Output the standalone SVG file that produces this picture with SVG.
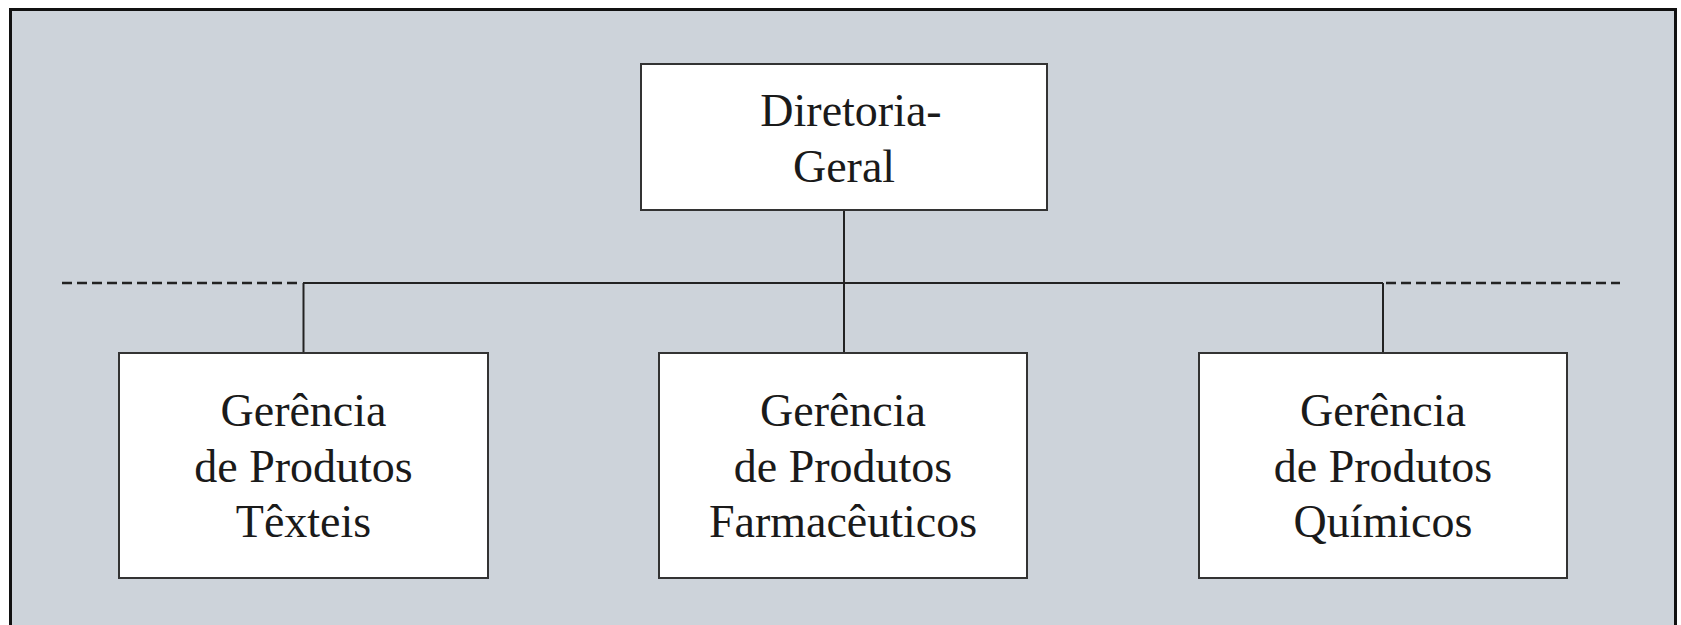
<svg xmlns="http://www.w3.org/2000/svg" width="1681" height="625" viewBox="0 0 1681 625">
  <style>
    .box { fill: #ffffff; stroke: #333333; stroke-width: 2; }
    .lbl { font-family: "Liberation Serif", "DejaVu Serif", serif; font-size: 46px; fill: #1a1a1a; text-anchor: middle; }
    .conn { stroke: #222222; stroke-width: 2; fill: none; }
    .dash { stroke: #222222; stroke-width: 2.5; stroke-dasharray: 10 5; fill: none; }
  </style>
  <rect x="0" y="0" width="1681" height="625" fill="#ffffff"/>
  <rect x="10.5" y="9.5" width="1665" height="620" fill="#cdd3da" stroke="#111111" stroke-width="3"/>

  <g id="connectors">
    <line class="dash" x1="62" y1="283" x2="298" y2="283"/>
    <line class="dash" x1="1386" y1="283" x2="1620" y2="283"/>
    <line class="conn" x1="303" y1="283" x2="1383" y2="283"/>
    <line class="conn" x1="844" y1="210" x2="844" y2="353"/>
    <line class="conn" x1="303.5" y1="283" x2="303.5" y2="353"/>
    <line class="conn" x1="1383" y1="283" x2="1383" y2="353"/>
  </g>

  <g id="diretoria-geral">
    <rect class="box" x="641" y="64" width="406" height="146"/>
    <text class="lbl" x="851" y="126">Diretoria-</text>
    <text class="lbl" x="844" y="181.5">Geral</text>
  </g>

  <g id="gerencia-texteis">
    <rect class="box" x="119" y="353" width="369" height="225"/>
    <text class="lbl" x="303.5" y="426">Gerência</text>
    <text class="lbl" x="303.5" y="481.5">de Produtos</text>
    <text class="lbl" x="303.5" y="537">Têxteis</text>
  </g>

  <g id="gerencia-farmaceuticos">
    <rect class="box" x="659" y="353" width="368" height="225"/>
    <text class="lbl" x="843" y="426">Gerência</text>
    <text class="lbl" x="843" y="481.5">de Produtos</text>
    <text class="lbl" x="843" y="537">Farmacêuticos</text>
  </g>

  <g id="gerencia-quimicos">
    <rect class="box" x="1199" y="353" width="368" height="225"/>
    <text class="lbl" x="1383" y="426">Gerência</text>
    <text class="lbl" x="1383" y="481.5">de Produtos</text>
    <text class="lbl" x="1383" y="537">Químicos</text>
  </g>
</svg>
